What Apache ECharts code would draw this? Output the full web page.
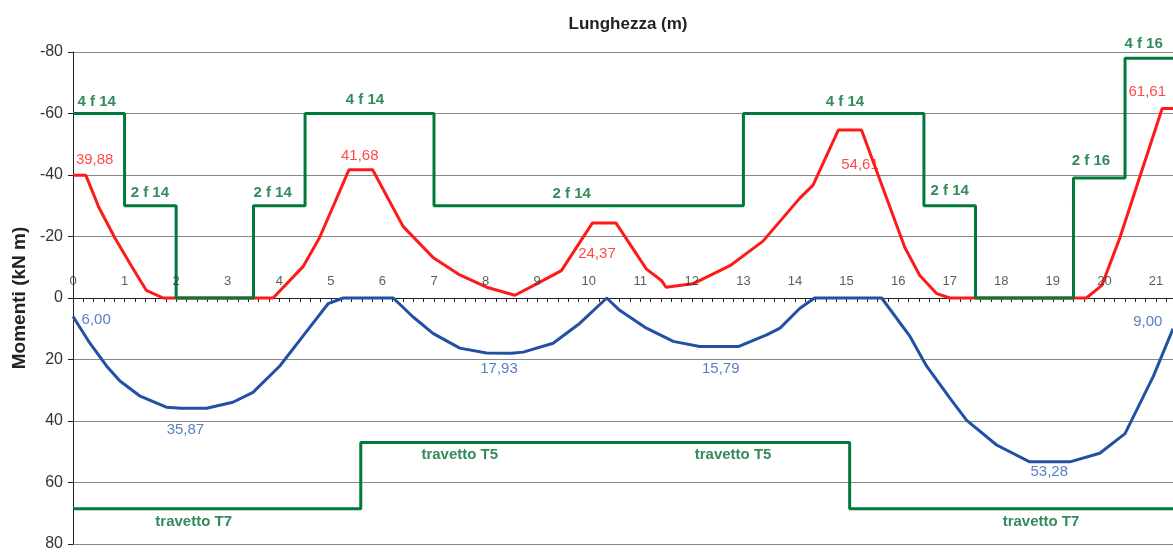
<!DOCTYPE html>
<html>
<head>
<meta charset="utf-8">
<script src="https://cdn.jsdelivr.net/npm/echarts@6/dist/echarts.min.js"></script>
<style>
  html, body { margin: 0; padding: 0; background: #fff; }
  #chart { width: 1173px; height: 552px; }
</style>
</head>
<body>
<div id="chart"></div>
<script>
// momenti negativi (rosso) e positivi (blu), in kN m lungo la trave (m)
const negMoment = [
  [0, -39.88], [0.25, -39.88], [0.5, -29.5], [0.81, -19.6], [1.13, -10.5], [1.42, -2.5],
  [1.75, 0], [3.88, 0], [4.46, -10.2], [4.78, -19.6], [5.05, -30], [5.35, -41.68],
  [5.81, -41.68], [6.4, -23.3], [6.98, -13.2], [7.5, -7.5], [8.02, -3.5], [8.57, -0.9],
  [8.99, -4.6], [9.47, -8.9], [10.07, -24.37], [10.53, -24.37], [11.12, -9.4], [11.41, -5.7],
  [11.5, -3.5], [12.02, -4.6], [12.74, -10.5], [13.38, -18.5], [14.09, -32.4], [14.35, -36.7],
  [14.84, -54.61], [15.29, -54.61], [16.13, -16.4], [16.42, -7.3], [16.75, -1.4], [17.0, 0],
  [19.65, 0], [19.95, -4.1], [20.3, -19.6], [21.12, -61.61], [21.33, -61.61]
];
const posMoment = [
  [0, 6], [0.3, 14], [0.65, 22.1], [0.91, 27], [1.29, 31.8], [1.81, 35.5], [2.1, 35.87],
  [2.59, 35.87], [3.1, 33.9], [3.49, 30.7], [4.01, 22.1], [4.5, 11.5], [4.95, 1.8], [5.24, 0],
  [6.21, 0], [6.59, 6.1], [6.98, 11.5], [7.5, 16.3], [8.02, 17.9], [8.5, 17.93], [8.73, 17.6],
  [9.31, 14.7], [9.83, 8.2], [10.35, 0], [10.6, 4], [11.12, 9.8], [11.64, 14.1], [12.15, 15.79],
  [12.9, 15.79], [13.45, 12], [13.71, 9.8], [14.09, 3.4], [14.38, 0], [15.68, 0], [16.23, 12.5],
  [16.55, 22.1], [17.0, 32.5], [17.33, 39.8], [17.91, 47.8], [18.55, 53.28], [19.33, 53.28],
  [19.91, 50.5], [20.4, 44.1], [20.95, 25.4], [21.33, 10]
];

// armatura superiore (momento resistente) - gradini
const topBarX = [0, 1, 2, 3.5, 4.5, 7, 13, 16.5, 17.5, 19.4, 20.4, 21.33];
const topBarY = [-60, -30, 0, -30, -60, -30, -60, -30, 0, -39, -78, -78];
// travetti (momento resistente positivo)
const botBarX = [0, 5.58, 15.06, 21.33];
const botBarY = [68.5, 47, 68.5, 68.5];

// etichette asse x (m)
const xTickLabels = [0, 1, 2, 3, 4, 5, 6, 7, 8, 9, 10, 11, 12, 13, 14, 15, 16, 17, 18, 19, 20, 21];

// etichette [x, y, testo]
const redLabels = [
  [0.42, -44.9, '39,88'], [5.56, -46.2, '41,68'], [10.16, -14.4, '24,37'],
  [15.26, -43.3, '54,61'], [20.83, -67.2, '61,61']
];
const blueLabels = [
  [0.45, 7.1, '6,00'], [2.18, 43, '35,87'], [8.26, 23.1, '17,93'],
  [12.56, 23.1, '15,79'], [18.93, 56.5, '53,28'], [20.84, 7.7, '9,00']
];
const greenLabels = [
  [0.46, -63.9, '4 f 14'], [1.49, -34.3, '2 f 14'], [3.87, -34.3, '2 f 14'],
  [5.66, -64.5, '4 f 14'], [9.67, -34, '2 f 14'], [14.97, -63.9, '4 f 14'],
  [17.0, -35, '2 f 14'], [19.74, -44.6, '2 f 16'], [20.76, -82.8, '4 f 16'],
  [2.34, 72.8, 'travetto T7'], [7.5, 51, 'travetto T5'], [12.8, 51, 'travetto T5'],
  [18.77, 72.8, 'travetto T7']
];

const GREEN = '#007a3a';
const RED = '#ff1a1a';
const BLUE = '#2250a4';
const FONT = '"Liberation Sans", Arial, sans-serif';

const chart = echarts.init(document.getElementById('chart'));

function zipXY(xs, ys) {
  return xs.map((x, i) => [x, ys[i]]);
}
function labelSeries(list, color, bold) {
  return {
    type: 'scatter',
    symbolSize: 0,
    silent: true,
    clip: false,
    z: 10,
    label: {
      show: true,
      position: 'inside',
      color: color,
      fontSize: 15,
      fontWeight: bold ? 'bold' : 'normal',
      fontFamily: FONT,
      formatter: p => p.name
    },
    data: list.map(l => ({ value: [l[0], l[1]], name: l[2] }))
  };
}

const option = {
  animation: false,
  textStyle: { fontFamily: FONT },
  title: {
    text: 'Lunghezza (m)',
    left: 623,
    textAlign: 'center',
    top: 11,
    textStyle: { fontSize: 17, fontWeight: 'bold', color: '#222', fontFamily: FONT }
  },
  grid: { left: 73, right: 0, top: 52, bottom: 2 },
  xAxis: {
    type: 'value',
    min: 0,
    max: 21.33,
    interval: 1,
    axisLine: { onZero: true, lineStyle: { color: '#222', width: 1 } },
    axisTick: { show: true, inside: false, length: 4, lineStyle: { color: '#222' } },
    minorTick: { show: true, splitNumber: 5, length: 4, lineStyle: { color: '#222' } },
    axisLabel: { show: false },
    splitLine: { show: false }
  },
  yAxis: {
    type: 'value',
    min: -80,
    max: 80,
    interval: 20,
    inverse: true,
    name: 'Momenti (kN m)',
    nameLocation: 'middle',
    nameGap: 39,
    nameTextStyle: { fontSize: 19, fontWeight: 'bold', color: '#222', fontFamily: FONT },
    axisLine: { show: true, onZero: false, lineStyle: { color: '#222' } },
    axisTick: { show: true, length: 5, lineStyle: { color: '#222' } },
    axisLabel: { fontSize: 16, color: '#333', margin: 10 },
    splitLine: { show: true, lineStyle: { color: '#888', width: 1 } }
  },
  series: [
    {
      type: 'line',
      data: negMoment,
      symbol: 'none',
      z: 3,
      lineStyle: { color: RED, width: 3 }
    },
    {
      type: 'line',
      data: posMoment,
      symbol: 'none',
      z: 3,
      lineStyle: { color: BLUE, width: 3 }
    },
    {
      type: 'line',
      data: zipXY(topBarX, topBarY),
      step: 'end',
      symbol: 'none',
      z: 4,
      lineStyle: { color: GREEN, width: 3 }
    },
    {
      type: 'line',
      data: zipXY(botBarX, botBarY),
      step: 'end',
      symbol: 'none',
      z: 4,
      lineStyle: { color: GREEN, width: 3 }
    },
    {
      // etichette dell'asse x, sopra la linea dello zero
      type: 'scatter',
      symbolSize: 0,
      silent: true,
      z: 10,
      label: {
        show: true,
        position: 'top',
        distance: 10,
        fontSize: 13,
        color: '#333',
        fontFamily: FONT,
        formatter: p => String(p.value[0])
      },
      data: xTickLabels.map(v => [v, 0])
    },
    labelSeries(redLabels, RED, false),
    labelSeries(blueLabels, '#2f5fb3', false),
    labelSeries(greenLabels, '#006e33', true)
  ]
};

chart.setOption(option);
</script>
</body>
</html>
